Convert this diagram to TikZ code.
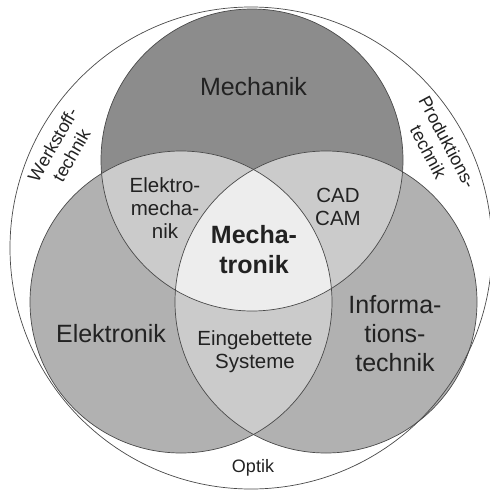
\documentclass[tikz,border=0pt]{standalone}
\usepackage{fontspec}
\setmainfont{Liberation Sans}
\definecolor{mechfill}{HTML}{8C8C8C}
\definecolor{sidefill}{HTML}{B1B1B1}
\definecolor{pairfill}{HTML}{CBCBCB}
\definecolor{corefill}{HTML}{EDEDED}
\definecolor{ringline}{HTML}{4A4A4A}
\definecolor{labeltext}{HTML}{222222}
\begin{document}
\begin{tikzpicture}[x=1pt,y=-1pt,
  ring/.style={draw=ringline,line width=0.7pt},
  biglabel/.style={inner sep=0pt,align=center,text=labeltext,font=\fontsize{25}{29}\selectfont},
  corelabel/.style={inner sep=0pt,align=center,text=labeltext,font=\fontsize{25}{30}\selectfont\bfseries},
  midlabel/.style={inner sep=0pt,align=center,text=labeltext,font=\fontsize{20.5}{23}\selectfont},
  rimlabel/.style={inner sep=0pt,align=center,text=labeltext,font=\fontsize{18}{21.5}\selectfont}]
\useasboundingbox (0,0) rectangle (490,491);
\clip (0,0) rectangle (490,491);
\fill[white] (0,0) rectangle (490,491);

% circle centres
\coordinate (cO) at (251,248);
\coordinate (cM) at (252,160);
\coordinate (cE) at (181,302);
\coordinate (cI) at (326,302);

% single areas
\fill[mechfill] (cM) circle (151pt);
\fill[sidefill] (cE) circle (151pt);
\fill[sidefill] (cI) circle (151pt);

% overlaps of two circles
\begin{scope}
  \clip (cM) circle (151pt);
  \fill[pairfill] (cE) circle (151pt);
  \fill[pairfill] (cI) circle (151pt);
\end{scope}
\begin{scope}
  \clip (cE) circle (151pt);
  \fill[pairfill] (cI) circle (151pt);
\end{scope}

% overlap of all three
\begin{scope}
  \clip (cM) circle (151pt);
  \clip (cE) circle (151pt);
  \fill[corefill] (cI) circle (151pt);
\end{scope}

% outlines
\draw[ring] (cO) circle (241pt);
\draw[ring] (cM) circle (151pt);
\draw[ring] (cE) circle (151pt);
\draw[ring] (cI) circle (151pt);

% labels
\node[biglabel,anchor=base] (mech) at (253.5,95) {Mechanik};
\node[biglabel,anchor=base] (elek) at (111,342) {Elektronik};
\node[biglabel,anchor=base] (info) at (395,371) {Informa-\\tions-\\technik};
\node[corelabel,anchor=base] (core) at (254,273) {Mecha-\\tronik};
\node[midlabel,anchor=base] (elme) at (165,238) {Elektro-\\mecha-\\nik};
\node[midlabel,anchor=base] (cad) at (338,225) {CAD\\CAM};
\node[midlabel,anchor=base] (embd) at (255,368) {Eingebettete\\Systeme};
\node[rimlabel,anchor=base] (opt) at (253,472) {Optik};
\node[rimlabel,rotate=60] (werk) at (62,150) {Werkstoff-\\technik};
\node[rimlabel,rotate=-62] (prod) at (438,147) {Produktions-\\technik};
\end{tikzpicture}
\end{document}
